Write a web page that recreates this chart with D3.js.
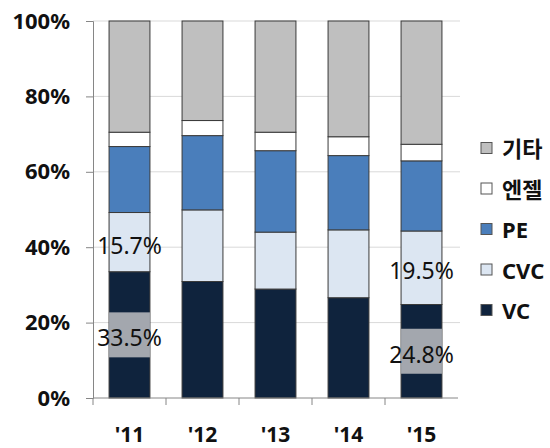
<!DOCTYPE html>
<html><head><meta charset="utf-8">
<script src="https://cdn.jsdelivr.net/npm/d3@7"></script>
<style>body{margin:0;background:#fff;} svg{display:block;}</style>
</head><body>
<svg id="chart" width="550" height="448"></svg>
<script>
const years = ["'11", "'12", "'13", "'14", "'15"];
const seriesNames = ["VC", "CVC", "PE", "엔젤", "기타"];
const vc    = [33.5, 30.9, 28.9, 26.6, 24.8];
const cvc   = [15.7, 19.0, 15.1, 18.0, 19.5];
const pe    = [17.5, 19.7, 21.6, 19.7, 18.6];
const angel = [3.8, 4.0, 4.9, 5.0, 4.4];
const other = [29.5, 26.4, 29.5, 30.7, 32.7];
const yTicks = [0, 20, 40, 60, 80, 100];
const colors = ["#0f233d", "#dce6f2", "#4a7ebb", "#ffffff", "#bfbfbf"];
const labels = [
  {year: "'11", value: 15.7, series: "CVC", box: false},
  {year: "'11", value: 33.5, series: "VC", box: true},
  {year: "'15", value: 19.5, series: "CVC", box: false},
  {year: "'15", value: 24.8, series: "VC", box: true}
];

const font = "'Noto Sans', 'Noto Sans CJK KR', sans-serif";
const svg = d3.select("#chart");
const mLeft = 93, mRight = 458, mTop = 21, mBottom = 398;

const x = d3.scaleBand().domain(years).range([mLeft, mRight]).paddingInner(0.44).paddingOuter(0.22);
const xb = d3.scaleBand().domain(years).range([mLeft, mRight]);
const y = d3.scaleLinear().domain([0, 100]).range([mBottom, mTop]);

const table = years.map((yr, i) => ({year: yr, "VC": vc[i], "CVC": cvc[i], "PE": pe[i], "엔젤": angel[i], "기타": other[i]}));
const stack = d3.stack().keys(seriesNames)(table);
const color = d3.scaleOrdinal().domain(seriesNames).range(colors);

// gridlines
svg.append("g").selectAll("line").data(yTicks.filter(t => t > 0)).join("line")
  .attr("x1", mLeft).attr("x2", mRight + 2)
  .attr("y1", d => y(d)).attr("y2", d => y(d))
  .attr("stroke", "#d9d9d9").attr("stroke-width", 1);

// bars
svg.append("g").selectAll("g").data(stack).join("g")
  .attr("fill", d => color(d.key))
  .selectAll("rect").data(d => d).join("rect")
  .attr("x", d => x(d.data.year))
  .attr("width", x.bandwidth())
  .attr("y", d => y(d[1]))
  .attr("height", d => y(d[0]) - y(d[1]))
  .attr("stroke", "#3a3a3a").attr("stroke-width", 1);

// label boxes and labels
const stackBy = {};
stack.forEach(s => { stackBy[s.key] = s; });
labels.forEach(l => {
  const idx = years.indexOf(l.year);
  const seg = stackBy[l.series][idx];
  const cy = y((seg[0] + seg[1]) / 2);
  if (l.box) {
    svg.append("rect")
      .attr("x", x(l.year)).attr("width", x.bandwidth())
      .attr("y", cy - 22.5).attr("height", 45)
      .attr("fill", "#a3a7ae");
  }
  svg.append("text")
    .attr("x", x(l.year) + x.bandwidth() / 2)
    .attr("y", cy + 2.5)
    .attr("text-anchor", "middle").attr("dominant-baseline", "central")
    .attr("font-family", font).attr("font-size", 23)
    .attr("fill", "#111")
    .text(l.value.toFixed(1) + "%");
});

// y axis
const yAxis = svg.append("g").attr("transform", `translate(${mLeft},0)`)
  .call(d3.axisLeft(y).tickValues(yTicks).tickFormat(d => d + "%").tickSize(7).tickPadding(16));
yAxis.select(".domain").attr("stroke", "#868686");
yAxis.selectAll(".tick line").attr("stroke", "#868686");
yAxis.selectAll(".tick text").attr("font-family", font).attr("font-size", 22).attr("font-weight", "bold").attr("fill", "#111");

// x axis
const xg = svg.append("g").attr("transform", `translate(0,${mBottom})`);
xg.append("line").attr("x1", mLeft).attr("x2", mRight).attr("stroke", "#868686");
xg.selectAll("line.tk").data(years.slice(0, 4)).join("line").attr("class", "tk")
  .attr("x1", d => xb(d) + xb.bandwidth()).attr("x2", d => xb(d) + xb.bandwidth())
  .attr("y1", 0).attr("y2", 7).attr("stroke", "#868686");
xg.append("line").attr("x1", mLeft).attr("x2", mLeft).attr("y1", 0).attr("y2", 7).attr("stroke", "#868686");
xg.selectAll("text").data(years).join("text")
  .attr("x", d => x(d) + x.bandwidth() / 2).attr("y", 44)
  .attr("text-anchor", "middle")
  .attr("font-family", font).attr("font-size", 21).attr("font-weight", "bold").attr("fill", "#111")
  .text(d => d);

// legend
const legendOrder = seriesNames.slice().reverse();
const lg = svg.append("g").selectAll("g").data(legendOrder).join("g")
  .attr("transform", (d, i) => `translate(481,${148 + i * 40.5})`);
lg.append("rect").attr("x", 0).attr("y", -5.5).attr("width", 11).attr("height", 11)
  .attr("fill", d => color(d)).attr("stroke", "#555").attr("stroke-width", 1);
lg.append("text").attr("x", 21).attr("y", 0).attr("dominant-baseline", "central")
  .attr("font-family", font).attr("font-size", 22).attr("font-weight", "bold").attr("fill", "#111")
  .text(d => d);
</script>
</body></html>
